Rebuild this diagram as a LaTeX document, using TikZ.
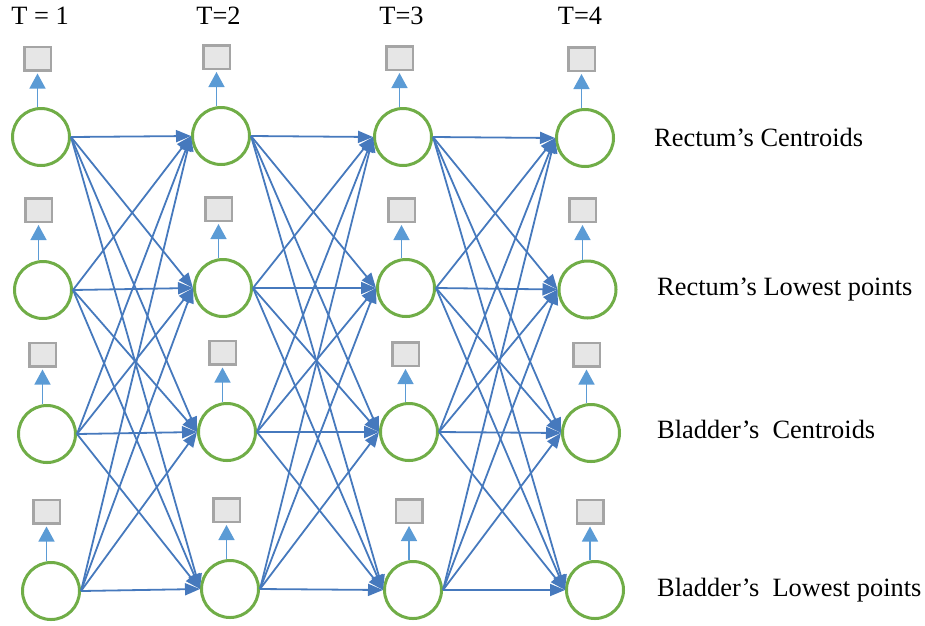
\documentclass[tikz,border=0pt]{standalone}
\usepackage{fontspec}
\setmainfont{Liberation Serif}
\usetikzlibrary{arrows.meta}
\definecolor{unitgreen}{HTML}{70AD47}
\definecolor{linkblue}{HTML}{4679BD}
\definecolor{emitblue}{HTML}{5B9BD5}
\definecolor{obsedge}{HTML}{A5A5A5}
\definecolor{obsfill}{HTML}{E6E6E6}
\tikzset{
  unit/.style={circle, draw=unitgreen, line width=3pt, minimum size=57pt, inner sep=0pt},
  obs/.style={rectangle, draw=obsedge, fill=obsfill, line width=2.5pt,
              minimum width=26.5pt, minimum height=23.5pt, inner sep=0pt},
  link/.style={draw=linkblue, line width=1.8pt,
               -{Triangle[length=15pt,width=12pt]}},
  emit/.style={draw=emitblue, line width=1.4pt, shorten >=2pt,
               -{Triangle[length=15pt,width=16pt]}},
  lbl/.style={font=\fontsize{26.4}{30}\selectfont, inner sep=0pt}
}
\begin{document}
\begin{tikzpicture}[x=1pt,y=-1pt]
\useasboundingbox (0,0) rectangle (925,625);

% hidden state units, column = time step, row = tracked quantity
\foreach \c/\r/\x/\y in {
  1/1/41/137, 1/2/43/290, 1/3/47/434, 1/4/51/591,
  2/1/221/136, 2/2/223/288, 2/3/227/432, 2/4/230/589,
  3/1/403/137, 3/2/406/288, 3/3/409/432, 3/4/413/590,
  4/1/585/138, 4/2/587.5/289.5, 4/3/591/433, 4/4/595/590}
  \node[unit] (c\c\r) at (\x,\y) {};

% observation boxes above each unit
\foreach \c/\r/\x/\y in {
  1/1/37.5/58.5, 1/2/38.5/210, 1/3/42.5/354.5, 1/4/46.5/511.5,
  2/1/216.5/57, 2/2/218.5/209, 2/3/222.5/352.5, 2/4/226.5/510,
  3/1/399.5/58, 3/2/401.5/210, 3/3/405.5/354, 3/4/409/511,
  4/1/581.5/59, 4/2/582.5/210, 4/3/586.5/354.5, 4/4/590/511.5}
  \node[obs] (s\c\r) at (\x,\y) {};

% emission arrows
\foreach \c in {1,...,4}
  \foreach \r in {1,...,4}
    \draw[emit] (c\c\r.north -| s\c\r.south) -- (s\c\r.south);

% full transitions between consecutive time steps
\foreach \i/\j in {1/2,2/3,3/4}
  \foreach \r in {1,...,4}
    \foreach \t in {1,...,4}
      \draw[link] (c\i\r.east) -- (c\j\t.west);

% time step headers
\node[lbl, anchor=base] (t1) at (40,24) {T = 1};
\node[lbl, anchor=base] (t2) at (218.5,24) {T=2};
\node[lbl, anchor=base] (t3) at (401.5,24) {T=3};
\node[lbl, anchor=base] (t4) at (580,24) {T=4};

% row labels
\node[lbl, anchor=base west] (l1) at (654,146) {Rectum’s Centroids};
\node[lbl, anchor=base west] (l2) at (657,295) {Rectum’s Lowest points};
\node[lbl, anchor=base west] (l3) at (657,438) {Bladder’s\ \ Centroids};
\node[lbl, anchor=base west] (l4) at (657,596) {Bladder’s\ \ Lowest points};
\end{tikzpicture}
\end{document}
